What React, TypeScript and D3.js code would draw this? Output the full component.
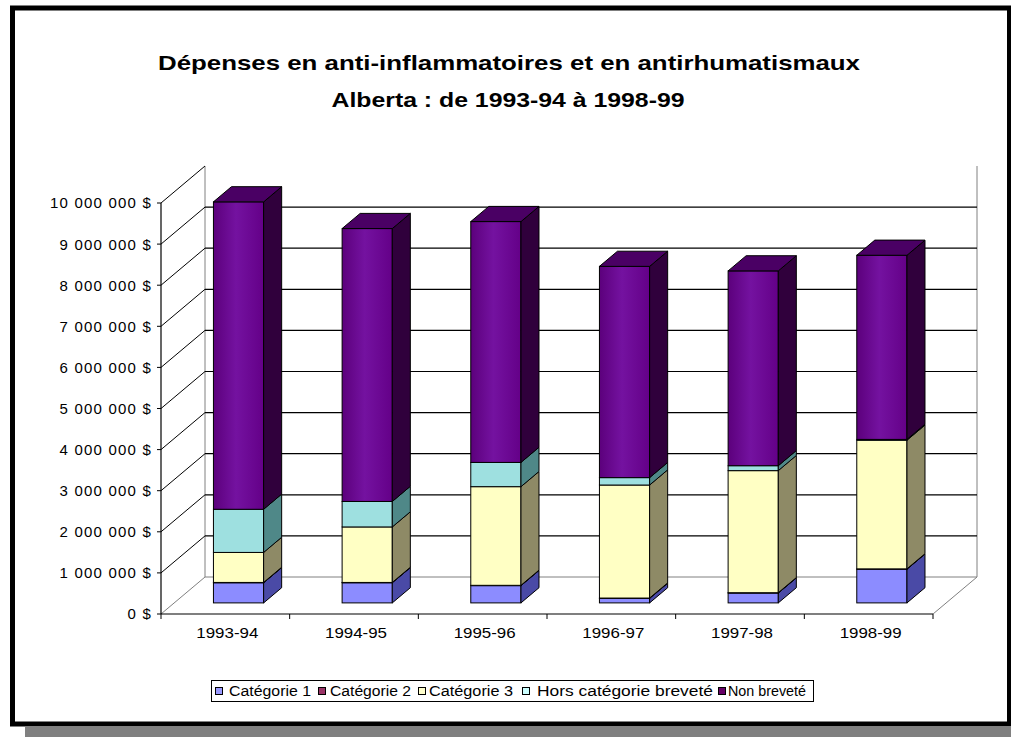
import React from "react";
import * as d3 from "d3";

const categories = ["1993-94", "1994-95", "1995-96", "1996-97", "1997-98", "1998-99"];
const seriesNames = ["Catégorie 1", "Catégorie 2", "Catégorie 3", "Hors catégorie breveté", "Non breveté"];
const categorie1 = [490000, 490000, 420000, 110000, 240000, 820000];
const categorie2 = [8000, 8000, 8000, 8000, 8000, 8000];
const categorie3 = [730000, 1350000, 2400000, 2750000, 2970000, 3130000];
const horsCategorie = [1050000, 620000, 590000, 180000, 120000, 20000];
const nonBrevete = [7480000, 6640000, 5860000, 5140000, 4740000, 4480000];
const yTicks = [0, 1000000, 2000000, 3000000, 4000000, 5000000, 6000000, 7000000, 8000000, 9000000, 10000000];
const yTickLabels = ["0 $", "1 000 000 $", "2 000 000 $", "3 000 000 $", "4 000 000 $", "5 000 000 $", "6 000 000 $", "7 000 000 $", "8 000 000 $", "9 000 000 $", "10 000 000 $"];

const seriesValues = [categorie1, categorie2, categorie3, horsCategorie, nonBrevete];
const frontColors = ["#8c8cff", "#993366", "#ffffc4", "#9ee0e0", "url(#purpleGrad)"];
const sideColors = ["#4a4aa6", "#4d1a33", "#8e8a66", "#4f8888", "#30003c"];
const legendColors = ["#9999ff", "#993366", "#ffffcc", "#ccffff", "#660066"];

const DX = 44;
const DY = 37;
const D1 = 0.3;
const D2 = 0.71;

export default function App() {
  const x = d3.scaleBand<string>().domain(categories).range([161, 933]).paddingInner(0).paddingOuter(0);
  const y = d3.scaleLinear().domain([0, 10000000]).range([614, 203]);
  const bw = x.bandwidth();
  const barW = bw * 0.39;

  const stack = d3.stack<number>().keys(d3.range(seriesValues.length).map(String))
    .value((i, k) => seriesValues[+k][i]);
  const stacked = stack(d3.range(categories.length));

  const backLeft = 161 + DX;
  const backRight = 933 + DX;

  const bars: React.ReactNode[] = [];
  categories.forEach((c, ci) => {
    const fx0 = (x(c) as number) + (bw - barW) / 2 + DX * D1;
    const fx1 = fx0 + barW;
    const sdx = DX * (D2 - D1);
    const sdy = DY * (D2 - D1);
    stacked.forEach((s, si) => {
      const [v0, v1] = s[ci];
      const yb = y(v0) - DY * D1;
      const yt = y(v1) - DY * D1;
      bars.push(
        <g key={`${ci}-${si}`}>
          <rect x={fx0} y={yt} width={barW} height={Math.max(0, yb - yt)} fill={frontColors[si]} stroke="#000" strokeWidth={1} />
          <path d={`M${fx1},${yb}L${fx1 + sdx},${yb - sdy}L${fx1 + sdx},${yt - sdy}L${fx1},${yt}Z`} fill={sideColors[si]} stroke="#000" strokeWidth={1} />
        </g>
      );
    });
    const top = stacked[stacked.length - 1][ci][1];
    const yt = y(top) - DY * D1;
    bars.push(
      <path key={`top-${ci}`} d={`M${fx0},${yt}L${fx1},${yt}L${fx1 + sdx},${yt - sdy}L${fx0 + sdx},${yt - sdy}Z`} fill="#4a0064" stroke="#000" strokeWidth={1} />
    );
  });

  const legendItems = [
    { sq: 215, tx: 229, tl: 82 },
    { sq: 318, tx: 330, tl: 81 },
    { sq: 418, tx: 429, tl: 84 },
    { sq: 522, tx: 537, tl: 176 },
    { sq: 718, tx: 728, tl: 78 },
  ];

  const font = "'Liberation Sans', Arial, sans-serif";

  return (
    <svg width={1011} height={737} style={{ position: "absolute", left: 0, top: 0, background: "#fff" }} fontFamily={font}>
      <defs>
        <linearGradient id="purpleGrad" x1="0" x2="1" y1="0" y2="0">
          <stop offset="0" stopColor="#5c007c" />
          <stop offset="0.45" stopColor="#7412a0" />
          <stop offset="1" stopColor="#640088" />
        </linearGradient>
      </defs>
      <rect x={0} y={0} width={1011} height={737} fill="#fff" />
      <rect x={25} y={727} width={986} height={10} fill="#808080" />
      <rect x={12.5} y={8} width={997} height={716} fill="#fff" stroke="#000" strokeWidth={5} />

      <text x={509} y={70} textAnchor="middle" fontSize={21} fontWeight="bold" textLength={702} lengthAdjust="spacingAndGlyphs">Dépenses en anti-inflammatoires et en antirhumatismaux</text>
      <text x={508} y={107} textAnchor="middle" fontSize={21} fontWeight="bold" textLength={353} lengthAdjust="spacingAndGlyphs">Alberta : de 1993-94 à 1998-99</text>

      {/* floor */}
      <path d={`M161,${y(0)}L${backLeft},${y(0) - DY}L${backRight},${y(0) - DY}L933,${y(0)}`} fill="none" stroke="#808080" strokeWidth={1} />
      {/* back wall edges */}
      <line x1={backLeft} x2={backLeft} y1={y(0) - DY} y2={y(10000000) - DY} stroke="#808080" strokeWidth={1} />
      <line x1={backRight} x2={backRight} y1={y(0) - DY} y2={y(10000000) - DY} stroke="#808080" strokeWidth={1} />
      {/* gridlines */}
      {yTicks.filter((t) => t > 0 && t < 10000000).map((t) => (
        <line key={`g${t}`} x1={backLeft} x2={backRight} y1={y(t) - DY} y2={y(t) - DY} stroke="#000" strokeWidth={1.2} />
      ))}
      {yTicks.filter((t) => t > 0).map((t) => (
        <line key={`d${t}`} x1={161} x2={backLeft} y1={y(t)} y2={y(t) - DY} stroke="#000" strokeWidth={1} />
      ))}

      {bars}

      {/* y axis */}
      <line x1={161} x2={161} y1={y(0)} y2={y(10000000)} stroke="#000" strokeWidth={1.2} />
      {yTicks.map((t, i) => (
        <g key={`yt${t}`}>
          <line x1={157} x2={161} y1={y(t)} y2={y(t)} stroke="#000" />
          <text x={152} y={y(t)} dy="0.36em" textAnchor="end" fontSize={15} letterSpacing={1.2}>{yTickLabels[i]}</text>
        </g>
      ))}

      {/* x axis */}
      <line x1={161} x2={933} y1={y(0)} y2={y(0)} stroke="#000" strokeWidth={1.2} />
      {categories.map((c, i) => (
        <g key={`xt${c}`}>
          <line x1={(x(c) as number)} x2={(x(c) as number)} y1={y(0)} y2={y(0) + 5} stroke="#000" />
          {i === categories.length - 1 && (
            <line x1={(x(c) as number) + bw} x2={(x(c) as number) + bw} y1={y(0)} y2={y(0) + 5} stroke="#000" />
          )}
          <text x={(x(c) as number) + bw / 2 + 2} y={638} textAnchor="middle" fontSize={15} textLength={62} lengthAdjust="spacingAndGlyphs">{c}</text>
        </g>
      ))}

      {/* legend */}
      <rect x={211.5} y={680.5} width={602} height={21} fill="#fff" stroke="#000" strokeWidth={1} />
      {seriesNames.map((n, i) => (
        <g key={n}>
          <rect x={legendItems[i].sq + 0.5} y={687.5} width={7} height={7} fill={legendColors[i]} stroke="#000" strokeWidth={1} />
          <text x={legendItems[i].tx} y={696} fontSize={14} textLength={legendItems[i].tl} lengthAdjust="spacingAndGlyphs">{n}</text>
        </g>
      ))}
    </svg>
  );
}
